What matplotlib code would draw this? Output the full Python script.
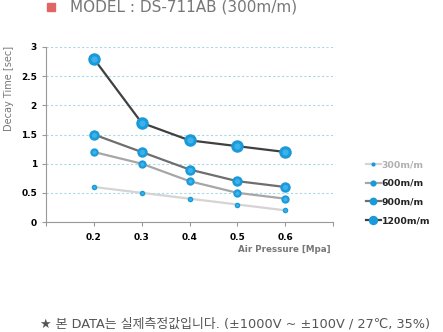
import matplotlib
matplotlib.use('Agg')
import matplotlib.pyplot as plt

plt.rcParams['font.family'] = ['DejaVu Sans', 'Noto Sans CJK KR']

pressure = [0.2, 0.3, 0.4, 0.5, 0.6]
labels = ['300m/m', '600m/m', '900m/m', '1200m/m']
v300 = [0.6, 0.5, 0.4, 0.3, 0.2]
v600 = [1.2, 1.0, 0.7, 0.5, 0.4]
v900 = [1.5, 1.2, 0.9, 0.7, 0.6]
v1200 = [2.8, 1.7, 1.4, 1.3, 1.2]
series = [v300, v600, v900, v1200]

line_cols = ['#d4d4d4', '#a6a6a6', '#6e6e6e', '#404040']
msizes = [4, 6, 7.5, 9]
label_cols = ['#b0b0b0', '#222222', '#222222', '#222222']
blue = '#1a9ad8'

fig = plt.figure(figsize=(4.43, 3.32), dpi=100)
ax = fig.add_axes([46/443, 1-222/332, 287/443, 175/332])

for vals, lab, lc, ms in zip(series, labels, line_cols, msizes):
    ax.plot(pressure, vals, color=lc, lw=1.6, marker='o', ms=ms,
            mfc=blue, mec=blue, mew=0, label=lab, zorder=3)
    # lighter centre for the glossy marker look
    ax.plot(pressure, vals, ls='none', marker='o', ms=ms*0.5,
            mfc='#3cb2ea', mew=0, zorder=4)

ax.set_xlim(0.1, 0.7)
ax.set_ylim(0, 3)
ax.set_xticks([0.1, 0.2, 0.3, 0.4, 0.5, 0.6, 0.7])
ax.set_xticklabels(['', '0.2', '0.3', '0.4', '0.5', '0.6', ''])
ax.set_yticks([0, 0.5, 1, 1.5, 2, 2.5, 3])
ax.set_yticklabels(['0', '0.5', '1', '1.5', '2', '2.5', '3'])
ax.tick_params(axis='both', colors='#999999', labelcolor='black',
               labelsize=6.5, length=3, width=0.8)
for t in ax.get_xticklabels() + ax.get_yticklabels():
    t.set_fontweight('bold')
ax.tick_params(axis='x', pad=5)

ax.yaxis.grid(True, color='#a8d8e8', ls=(0, (2, 2)), lw=0.8)
ax.set_axisbelow(True)
for s in ['top', 'right']:
    ax.spines[s].set_visible(False)
for s in ['left', 'bottom']:
    ax.spines[s].set_color('#999999')
    ax.spines[s].set_linewidth(0.8)

fig.text(9/443, 1-88/332, 'Decay Time [sec]', rotation=90, ha='center',
         va='center', color='#777777', fontsize=7)
fig.text(331/443, 1-250/332, 'Air Pressure [Mpa]', ha='right', va='center',
         color='#777777', fontsize=6.3, fontweight='bold')

leg = ax.legend(loc='upper left', bbox_to_anchor=(366/443, 1-160/332),
                bbox_transform=fig.transFigure, frameon=False, fontsize=6.7,
                handlelength=1.6, handletextpad=0.1, labelspacing=1.05,
                borderaxespad=0, borderpad=0, markerscale=0.75)
for txt, c in zip(leg.get_texts(), label_cols):
    txt.set_color(c)
    txt.set_fontweight('bold')

fig.patches.append(plt.Rectangle((47/443, 1-11/332), 8/443, 8/332,
                                 transform=fig.transFigure, color='#e06666'))
fig.text(70/443, 1-7/332, 'MODEL : DS-711AB (300m/m)', ha='left', va='center',
         color='#777777', fontsize=11)
fig.text(40/443, 1-324/332,
         '★ 본 DATA는 실제측정값입니다. (±1000V ~ ±100V / 27℃, 35%)',
         ha='left', va='center', color='#555555', fontsize=9.3)

fig.savefig('out.png', dpi=100)
